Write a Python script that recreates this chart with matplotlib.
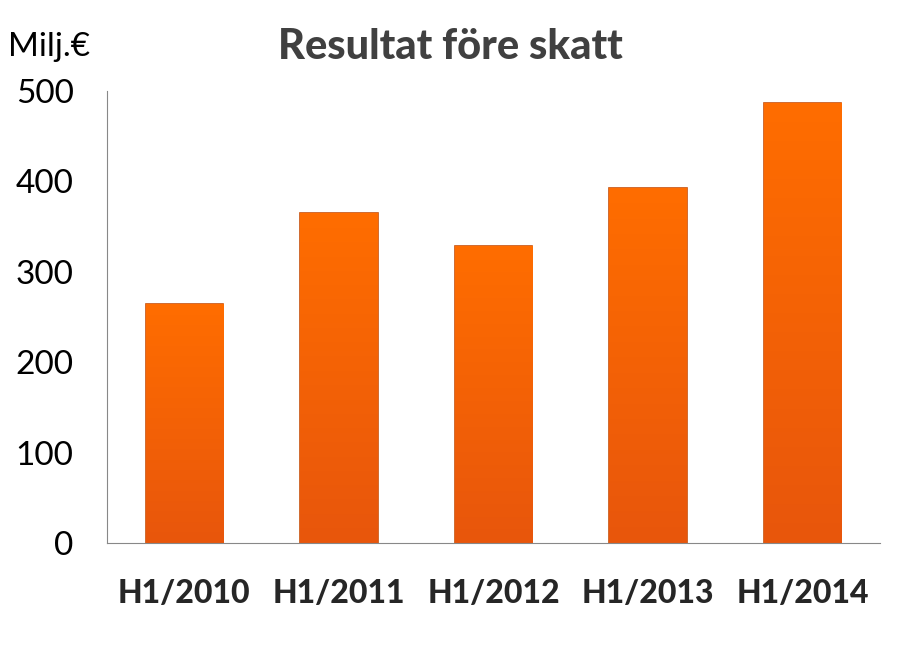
import numpy as np
import matplotlib.pyplot as plt
from matplotlib.colors import LinearSegmentedColormap

categories = ["H1/2010", "H1/2011", "H1/2012", "H1/2013", "H1/2014"]
values = [264, 365, 328, 393, 487]
yticks = [0, 100, 200, 300, 400, 500]

plt.rcParams['font.family'] = ['Lato', 'DejaVu Sans']

fig = plt.figure(figsize=(9.13, 6.51), dpi=100)
ax = fig.add_axes([107 / 913, 108 / 651, 773 / 913, 452 / 651])

x = np.arange(len(categories))
bars = ax.bar(x, values, width=0.5, color="#ff6a05", edgecolor="#c8500a", linewidth=1.2, zorder=2)

# vertical gradient on each bar
cmap = LinearSegmentedColormap.from_list("org", ["#e8560c", "#ff6d00"])
grad = np.linspace(0, 1, 256).reshape(-1, 1)
for b in bars:
    x0, w, h = b.get_x(), b.get_width(), b.get_height()
    im = ax.imshow(grad, cmap=cmap, origin="lower", aspect="auto",
                   extent=[x0, x0 + w, 0, h], zorder=2.5)
    im.set_clip_path(b)

ax.set_xlim(-0.5, len(categories) - 0.5)
ax.set_ylim(0, 500)
ax.set_yticks(yticks)
ax.set_xticks(x)
ax.set_xticklabels(categories, fontsize=23, fontweight="black", color="#262626")
ax.tick_params(axis="y", length=0, labelsize=24, pad=24, colors="#000000")
ax.tick_params(axis="x", length=0, pad=26)

for s in ["top", "right"]:
    ax.spines[s].set_visible(False)
ax.spines["left"].set_color("#888888")
ax.spines["bottom"].set_color("#888888")

fig.text(8 / 913, 1 - 47 / 651, "Milj.€", fontsize=24, va="center", ha="left", color="#000000")
fig.text(450 / 913, 1 - 47 / 651, "Resultat före skatt", fontsize=30, fontweight="black",
         va="center", ha="center", color="#404040")

fig.savefig("out.png", dpi=100)
